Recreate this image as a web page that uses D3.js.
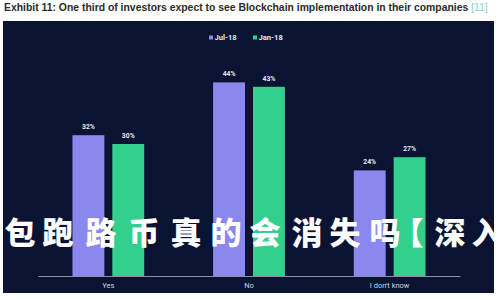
<!DOCTYPE html>
<html>
<head>
<meta charset="utf-8">
<script src="https://cdn.jsdelivr.net/npm/d3@7"></script>
<style>
  body { margin: 0; background: #ffffff; }
</style>
</head>
<body>
<div id="chart"></div>
<script>
var categories = ["Yes", "No", "I don't know"];
var seriesNames = ["Jul-18", "Jan-18"];
var jul18 = [32, 44, 24];
var jan18 = [30, 43, 27];
var overlayChars = ["包", "跑", "路", "币", "真", "的", "会", "消", "失", "吗", "【", "深", "入"];

var w = 500, h = 300;
var colors = { "Jul-18": "#8a88ee", "Jan-18": "#33cf8d" };

var svg = d3.select("#chart")
    .append("svg")
    .attr("width", w)
    .attr("height", h);

// title
var title = svg.append("text")
    .attr("x", 4)
    .attr("y", 10.5)
    .style("font-family", "'Liberation Sans', Arial, sans-serif")
    .style("font-size", "10.4px")
    .style("font-weight", "bold")
    .style("fill", "#2b2b2b");
title.append("tspan").text("Exhibit 11: One third of investors expect to see Blockchain implementation in their companies ");
title.append("tspan").text("[11]").style("fill", "#86d3d3").style("font-weight", "normal");

// dark panel
svg.append("rect")
    .attr("x", 3)
    .attr("y", 21)
    .attr("width", 491)
    .attr("height", 272)
    .attr("fill", "#0a1331");

var margin = { left: 38, right: 40 };
var baseY = 276;

var x0 = d3.scaleBand()
    .domain(categories)
    .range([margin.left, w - margin.right])
    .paddingInner(0.49)
    .paddingOuter(0.245);

var x1 = d3.scaleBand()
    .domain(seriesNames)
    .range([0, x0.bandwidth()])
    .paddingInner(0.2);

var y = d3.scaleLinear()
    .domain([0, 50])
    .range([baseY, baseY - 220]);

var rows = categories.map(function(c, i) {
    return { cat: c, values: [{ s: "Jul-18", v: jul18[i] }, { s: "Jan-18", v: jan18[i] }] };
});

var groups = svg.selectAll(".grp")
    .data(rows)
    .enter().append("g")
    .attr("transform", function(d) { return "translate(" + x0(d.cat) + ",0)"; });

groups.selectAll("rect")
    .data(function(d) { return d.values; })
    .enter().append("rect")
    .attr("x", function(d) { return x1(d.s); })
    .attr("y", function(d) { return y(d.v); })
    .attr("width", x1.bandwidth())
    .attr("height", function(d) { return baseY - y(d.v); })
    .attr("fill", function(d) { return colors[d.s]; });

groups.selectAll(".lbl")
    .data(function(d) { return d.values; })
    .enter().append("text")
    .attr("x", function(d) { return x1(d.s) + x1.bandwidth() / 2; })
    .attr("y", function(d) { return y(d.v) - 6; })
    .attr("text-anchor", "middle")
    .style("font-family", "Roboto, sans-serif")
    .style("font-size", "6.8px")
    .style("font-weight", "bold")
    .style("fill", "#e8e8f0")
    .text(function(d) { return d.v + "%"; });

// x axis
var xAxis = svg.append("g")
    .attr("transform", "translate(0," + baseY + ")")
    .call(d3.axisBottom(x0).tickSize(0).tickPadding(7));
xAxis.select(".domain").attr("stroke", "#8a90a8").attr("stroke-width", 1);
xAxis.selectAll("text")
    .style("font-family", "Roboto, sans-serif")
    .style("font-size", "7.5px")
    .style("fill", "#d0d4e0");

// legend
var legend = svg.append("g").attr("transform", "translate(209,38)");
var lx = [0, 44];
seriesNames.forEach(function(s, i) {
    legend.append("rect")
        .attr("x", lx[i])
        .attr("y", -2.5)
        .attr("width", 4)
        .attr("height", 4)
        .attr("fill", colors[s]);
    legend.append("text")
        .attr("x", lx[i] + 5.5)
        .attr("y", 2.3)
        .style("font-family", "Roboto, sans-serif")
        .style("font-size", "7.6px")
        .style("font-weight", "bold")
        .style("fill", "#e8e8f0")
        .text(s);
});

// overlay text, one glyph per slot
var slotX = [20, 58, 101, 144, 186, 226, 265, 307, 345, 385, 408, 450, 487];
svg.append("g").selectAll("text")
    .data(overlayChars)
    .enter().append("text")
    .attr("x", function(d, i) { return slotX[i]; })
    .attr("y", 244)
    .attr("text-anchor", "middle")
    .style("font-family", function(d) { return d == "【" ? "'Noto Sans CJK TC', sans-serif" : "'Noto Sans CJK SC', sans-serif"; })
    .style("font-size", "31px")
    .style("font-weight", "900")
    .style("fill", "#ffffff")
    .text(function(d) { return d; });
</script>
</body>
</html>
